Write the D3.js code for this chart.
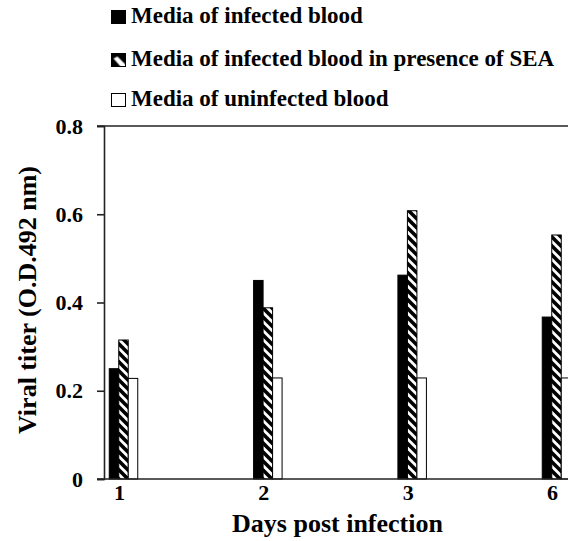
<!DOCTYPE html>
<html>
<head>
<meta charset="utf-8">
<script src="https://cdn.jsdelivr.net/npm/d3@7"></script>
<style>
  html, body { margin: 0; padding: 0; background: #fff; overflow: hidden; }
  svg { display: block; }
  svg text { font-family: 'Liberation Serif', 'Times New Roman', Times, 'DejaVu Serif', serif !important; font-weight: bold; fill: #000; }
</style>
</head>
<body>
<script>
// ---- data ----
const categories = ["1", "2", "3", "6"];
const seriesNames = [
  "Media of infected blood",
  "Media of infected blood in presence of SEA",
  "Media of uninfected blood"
];
const infected = [0.25, 0.45, 0.462, 0.367];
const infectedSEA = [0.315, 0.388, 0.608, 0.553];
const uninfected = [0.228, 0.229, 0.229, 0.229];
const yTicks = [0, 0.2, 0.4, 0.6, 0.8];
const yTickLabels = ["0", "0.2", "0.4", "0.6", "0.8"];
const xTitle = "Days post infection";
const yTitle = "Viral titer (O.D.492 nm)";

const seriesValues = [infected, infectedSEA, uninfected];

// ---- layout ----
const W = 568, H = 541;
const FONT = "'Liberation Serif', 'Times New Roman', Times, 'DejaVu Serif', serif";
const svg = d3.select("body").append("svg").attr("width", W).attr("height", H);

const defs = svg.append("defs");
const pat = defs.append("pattern")
  .attr("id", "hatch").attr("patternUnits", "userSpaceOnUse")
  .attr("width", 9).attr("height", 9);
pat.append("rect").attr("width", 9).attr("height", 9).attr("fill", "#fff");
pat.append("path")
  .attr("d", "M-3,-3 L12,12 M-3,6 L3,12 M6,-3 L12,3")
  .attr("stroke", "#000").attr("stroke-width", 3.6);

// legend icon hatch (coarser, mostly black with a white diagonal)
const patL = defs.append("pattern")
  .attr("id", "hatchL").attr("patternUnits", "objectBoundingBox")
  .attr("width", 1).attr("height", 1);
patL.append("rect").attr("width", 14).attr("height", 13).attr("fill", "#000");
patL.append("path")
  .attr("d", "M2,5 L9,13 L14,13 L14,11 L6,3 Z")
  .attr("fill", "#fff");

const y = d3.scaleLinear().domain([0, 0.8]).range([479, 126]);
const x = d3.scalePoint().domain(categories).range([123.5, 556.5]);
const xs = d3.scaleBand().domain(d3.range(seriesNames.length)).range([-14.25, 14.25]).padding(0);

const fills = ["#000", "url(#hatch)", "#fff"];
const legendFills = ["#000", "url(#hatchL)", "#fff"];

// bars
seriesValues.forEach((vals, si) => {
  svg.append("g").selectAll("rect")
    .data(vals)
    .join("rect")
    .attr("x", (d, i) => x(categories[i]) + xs(si))
    .attr("y", d => y(d))
    .attr("width", xs.bandwidth())
    .attr("height", d => y(0) - y(d))
    .attr("fill", fills[si])
    .attr("stroke", "#000")
    .attr("stroke-width", 1);
});

// y axis
const yAxis = d3.axisLeft(y)
  .tickValues(yTicks)
  .tickFormat((d, i) => yTickLabels[i])
  .tickSize(7)
  .tickPadding(14);
const gy = svg.append("g").attr("transform", "translate(104,0)").call(yAxis)
  .attr("font-family", FONT);
gy.select(".domain").attr("stroke", "#222").attr("stroke-width", 1.6);
gy.selectAll(".tick line").attr("stroke", "#222").attr("stroke-width", 1.6);
gy.selectAll(".tick text")
  .style("font-family", FONT)
  .style("font-size", "22px")
  .style("font-weight", "bold")
  .attr("fill", "#000");

// top border line at max and x axis baseline
svg.append("line").attr("x1", 97).attr("x2", W + 5)
  .attr("y1", y(0.8)).attr("y2", y(0.8))
  .attr("stroke", "#222").attr("stroke-width", 1.6);
svg.append("line").attr("x1", 97).attr("x2", W + 5)
  .attr("y1", y(0)).attr("y2", y(0))
  .attr("stroke", "#222").attr("stroke-width", 1.6);

// x tick labels
svg.append("g").selectAll("text")
  .data(categories)
  .join("text")
  .attr("x", d => x(d) - 4)
  .attr("y", 500)
  .attr("text-anchor", "middle")
  .style("font-family", FONT)
  .style("font-size", "22px")
  .text(d => d);

// axis titles
svg.append("text")
  .attr("x", 337.5).attr("y", 532)
  .attr("text-anchor", "middle")
  .style("font-family", FONT)
  .style("font-size", "26px")
  .text(xTitle);

svg.append("text")
  .attr("transform", "translate(36,300) rotate(-90)")
  .attr("text-anchor", "middle")
  .style("font-family", FONT)
  .style("font-size", "26px")
  .text(yTitle);

// legend
const lg = svg.append("g");
const legendY = [10, 53, 93];
seriesNames.forEach((name, i) => {
  lg.append("rect")
    .attr("x", 111.5).attr("y", legendY[i] + 0.5)
    .attr("width", 14).attr("height", 13)
    .attr("fill", legendFills[i]).attr("stroke", "#000").attr("stroke-width", 1);
  lg.append("text")
    .attr("x", 131).attr("y", legendY[i] + 13)
    .style("font-family", FONT)
    .style("font-size", "23px")
    .text(name);
});
</script>
</body>
</html>
